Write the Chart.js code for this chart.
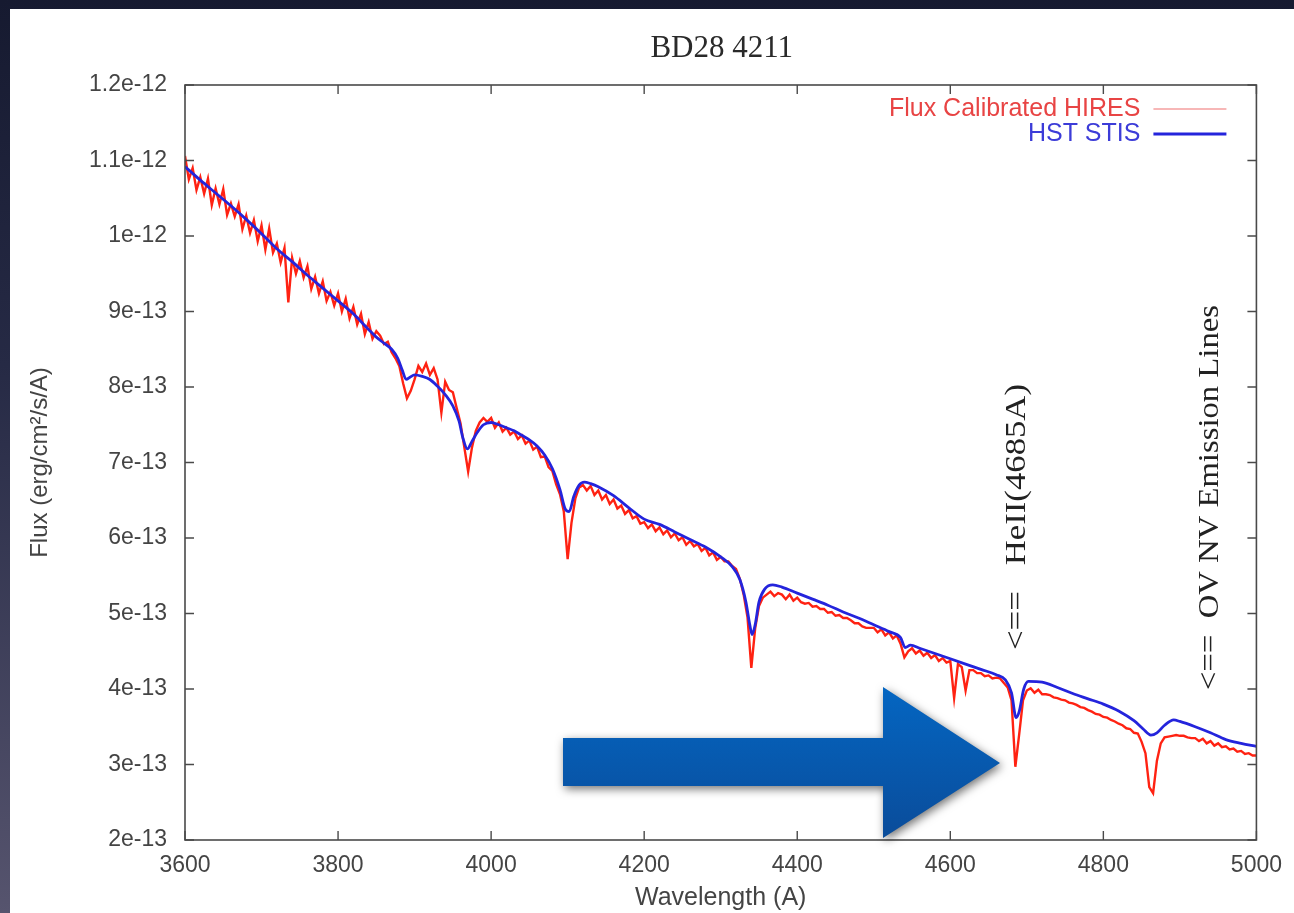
<!DOCTYPE html>
<html><head><meta charset="utf-8">
<script src="https://cdn.jsdelivr.net/npm/chart.js@4.4.1/dist/chart.umd.min.js"></script>
<style>
html,body{margin:0;padding:0;width:1294px;height:913px;overflow:hidden;
 background:linear-gradient(180deg,#161a30 0%,#262a45 40%,#56546e 100%);}
#panel{position:absolute;left:10px;top:9px;width:1284px;height:904px;background:#fff;}
canvas{display:block;}
</style></head><body>
<div id="panel"><canvas id="c" width="1284" height="904"></canvas></div>
<script>
// Flux values are in units of 1e-13 erg/cm^2/s/A
const chartTitle = 'BD28 4211';
const xTickLabels = ['3600','3800','4000','4200','4400','4600','4800','5000'];
const yTickLabels = ['2e-13','3e-13','4e-13','5e-13','6e-13','7e-13','8e-13','9e-13','1e-12','1.1e-12','1.2e-12'];
const seriesNames = ['Flux Calibrated HIRES','HST STIS'];
const annotations = ['<==   HeII(4685A)', '<==  OV NV Emission Lines'];

// HST STIS (smooth)
const stisWavelength = [3600,3620,3640,3660,3680,3700,3720,3740,3760,3780,3800,3820,3840,
 3850,3860,3870,3878,3884,3889,3894,3900,3910,3920,3930,3940,3950,
 3958,3963,3969,3975,3982,3990,4000,4010,4020,4030,4040,4050,4060,4070,4080,4090,
 4097,4102,4108,4115,4122,4130,4140,4160,4180,4200,4220,4240,4260,4280,4300,
 4315,4325,4333,4338,4341,4345,4350,4358,4368,4380,4400,4420,4440,4460,4480,4500,4520,
 4535,4541,4548,4560,4580,4600,4620,4640,4660,4672,4680,4686,4690,4696,4702,
 4720,4740,4760,4780,4800,4820,4840,4852,4862,4870,4880,4892,4900,4920,4940,4960,4980,5000];
const stisFlux = [10.92,10.74,10.57,10.40,10.22,10.03,9.83,9.66,9.48,9.31,9.14,8.97,8.76,
 8.66,8.58,8.50,8.38,8.22,8.10,8.13,8.16,8.14,8.10,8.01,7.90,7.75,
 7.55,7.33,7.18,7.28,7.40,7.50,7.53,7.50,7.46,7.42,7.36,7.30,7.22,7.10,6.92,6.64,
 6.38,6.35,6.55,6.70,6.74,6.72,6.68,6.56,6.40,6.25,6.18,6.08,5.98,5.88,5.75,
 5.62,5.45,5.15,4.85,4.72,4.85,5.15,5.33,5.38,5.35,5.27,5.19,5.11,5.02,4.94,4.85,4.76,
 4.68,4.55,4.58,4.54,4.47,4.40,4.33,4.26,4.19,4.12,3.95,3.62,3.70,4.00,4.10,
 4.09,4.02,3.94,3.87,3.80,3.71,3.58,3.47,3.39,3.42,3.52,3.59,3.57,3.50,3.42,3.33,3.28,3.24];

// Flux calibrated HIRES, sampled every 5 A from 3600 A
const hiresStart = 3600, hiresStep = 5;
const hiresFlux = [
 11.06,10.75,10.90,10.61,10.78,10.56,10.76,10.41,10.63,10.42,10.62,10.28,10.43,10.26,10.42,10.09,10.27,10.04,10.21,9.93,
 10.14,9.82,10.10,9.78,9.90,9.65,9.84,9.12,9.71,9.50,9.67,9.45,9.60,9.30,9.46,9.24,9.40,9.14,9.26,9.08,
 9.24,9.00,9.17,8.91,9.06,8.83,8.97,8.70,8.86,8.64,8.74,8.68,8.57,8.60,8.46,8.38,8.28,8.05,7.85,7.95,
 8.10,8.28,8.20,8.31,8.16,8.25,8.10,7.66,8.07,7.96,7.93,7.72,7.52,7.20,6.88,7.20,7.42,7.53,7.59,7.54,
 7.59,7.46,7.53,7.41,7.46,7.37,7.41,7.31,7.36,7.25,7.29,7.17,7.21,7.07,7.08,6.94,6.89,6.71,6.58,6.35,
 5.72,6.20,6.52,6.67,6.70,6.63,6.69,6.57,6.63,6.51,6.57,6.45,6.51,6.39,6.43,6.32,6.37,6.26,6.29,6.19,
 6.21,6.13,6.18,6.09,6.14,6.05,6.10,6.01,6.06,5.97,6.01,5.91,5.96,5.89,5.92,5.83,5.87,5.77,5.81,5.71,
 5.75,5.69,5.69,5.63,5.59,5.46,5.25,4.95,4.28,4.80,5.10,5.21,5.25,5.29,5.23,5.27,5.25,5.19,5.25,5.17,
 5.21,5.15,5.13,5.14,5.09,5.10,5.06,5.06,5.01,5.02,4.97,4.98,4.94,4.94,4.91,4.87,4.87,4.83,4.81,4.81,
 4.81,4.75,4.79,4.71,4.75,4.67,4.71,4.60,4.42,4.50,4.54,4.47,4.51,4.44,4.48,4.41,4.45,4.37,4.41,4.35,
 4.37,3.88,4.33,4.29,3.98,4.25,4.25,4.21,4.21,4.17,4.18,4.14,4.15,4.14,4.08,4.02,3.85,2.97,3.40,3.85,
 3.98,4.01,3.95,3.99,3.93,3.93,3.92,3.89,3.88,3.86,3.85,3.82,3.81,3.79,3.76,3.75,3.72,3.70,3.67,3.66,
 3.63,3.62,3.59,3.57,3.54,3.52,3.48,3.47,3.42,3.41,3.30,3.15,2.70,2.62,3.05,3.28,3.36,3.37,3.38,3.39,
 3.38,3.38,3.36,3.35,3.35,3.31,3.34,3.28,3.31,3.25,3.28,3.23,3.24,3.20,3.21,3.17,3.18,3.14,3.15,3.12,
 3.12];

const RED = '#ff2212', BLUE = '#2424dc';
const SANS = '"Liberation Sans", Arial, sans-serif';
const SERIF = '"Liberation Serif", "Times New Roman", serif';

const stisData = stisWavelength.map((w,i)=>({x:w, y:stisFlux[i]}));
const hiresData = hiresFlux.map((f,i)=>({x:hiresStart + hiresStep*i, y:f}));

const deco = {
  id:'deco',
  afterDatasetsDraw(chart){
    const {ctx, chartArea:a, scales:{x, y}} = chart;
    ctx.save();
    // frame
    ctx.strokeStyle = '#4a4a4a'; ctx.lineWidth = 1.6;
    ctx.strokeRect(a.left, a.top, a.right - a.left, a.bottom - a.top);
    // inward ticks (mirrored)
    ctx.beginPath();
    x.ticks.forEach(t => { const p = x.getPixelForValue(t.value);
      ctx.moveTo(p, a.bottom); ctx.lineTo(p, a.bottom - 9);
      ctx.moveTo(p, a.top); ctx.lineTo(p, a.top + 9); });
    y.ticks.forEach(t => { const p = y.getPixelForValue(t.value);
      ctx.moveTo(a.left, p); ctx.lineTo(a.left + 9, p);
      ctx.moveTo(a.right, p); ctx.lineTo(a.right - 9, p); });
    ctx.lineWidth = 1.4; ctx.stroke();

    // title
    ctx.fillStyle = '#2a2a2a'; ctx.font = '31px ' + SERIF;
    ctx.textAlign = 'center'; ctx.textBaseline = 'middle';
    ctx.fillText(chartTitle, (a.left + a.right)/2 + 1, 40);

    // legend (gnuplot style: text right-aligned, sample to the right)
    ctx.font = '25px ' + SANS; ctx.textAlign = 'right';
    const lx = a.right - 116, ly = a.top + 24;
    ctx.fillStyle = '#e84444'; ctx.fillText(seriesNames[0], lx, ly);
    ctx.fillStyle = '#3c3cd8'; ctx.fillText(seriesNames[1], lx, ly + 25);
    ctx.beginPath(); ctx.moveTo(lx + 13, ly); ctx.lineTo(lx + 86, ly);
    ctx.strokeStyle = '#f07070'; ctx.lineWidth = 1.2; ctx.stroke();
    ctx.beginPath(); ctx.moveTo(lx + 13, ly + 25); ctx.lineTo(lx + 86, ly + 25);
    ctx.strokeStyle = BLUE; ctx.lineWidth = 2.8; ctx.stroke();

    // rotated annotations
    const drawRot = (text, wave, yBottom, len) => {
      ctx.save();
      ctx.font = '29px ' + SERIF; ctx.fillStyle = '#222';
      ctx.textAlign = 'left'; ctx.textBaseline = 'middle';
      const w = ctx.measureText(text).width;
      ctx.translate(x.getPixelForValue(wave), yBottom);
      ctx.rotate(-Math.PI/2);
      ctx.scale(len / w, 1);
      ctx.fillText(text, 0, 0);
      ctx.restore();
    };
    drawRot(annotations[0], 4688, 641, 266);
    drawRot(annotations[1], 4940, 681, 385);

    // big blue arrow (slide decoration)
    ctx.save();
    ctx.shadowColor = 'rgba(0,0,0,0.55)'; ctx.shadowBlur = 10;
    ctx.shadowOffsetX = 2; ctx.shadowOffsetY = 3;
    const g = ctx.createLinearGradient(0, 678, 0, 829);
    g.addColorStop(0, '#0466c2'); g.addColorStop(1, '#0a4c9a');
    ctx.fillStyle = g;
    ctx.beginPath();
    ctx.moveTo(553, 729); ctx.lineTo(873, 729); ctx.lineTo(873, 678);
    ctx.lineTo(990, 754); ctx.lineTo(873, 829); ctx.lineTo(873, 777);
    ctx.lineTo(553, 777); ctx.closePath(); ctx.fill();
    ctx.restore();
    ctx.restore();
  }
};

new Chart(document.getElementById('c'), {
  type:'line',
  data:{ datasets:[
    {label:seriesNames[1], data:stisData, borderColor:BLUE, borderWidth:2.8,
     pointRadius:0, cubicInterpolationMode:'monotone', fill:false},
    {label:seriesNames[0], data:hiresData, borderColor:RED, borderWidth:2.4,
     pointRadius:0, tension:0, fill:false}
  ]},
  options:{
    responsive:false, animation:false, events:[],
    layout:{padding:{left:0, right:31, top:76, bottom:0}},
    plugins:{legend:{display:false}, tooltip:{enabled:false}, title:{display:false}},
    scales:{
      x:{type:'linear', min:3600, max:5000,
         grid:{display:false, drawTicks:false}, border:{display:false},
         ticks:{stepSize:200, autoSkip:false, maxRotation:0, padding:12, color:'#444',
                font:{family:SANS, size:23},
                callback:(v)=> xTickLabels[Math.round((v-3600)/200)] ?? ''},
         title:{display:true, text:'Wavelength (A)', color:'#444',
                font:{family:SANS, size:25}, padding:{top:0, bottom:0}},
         afterFit(s){ s.height = 73; }},
      y:{type:'linear', min:2, max:12,
         grid:{display:false, drawTicks:false}, border:{display:false},
         ticks:{stepSize:1, autoSkip:false, padding:18, color:'#444',
                font:{family:SANS, size:23},
                callback:(v)=> yTickLabels[Math.round(v-2)] ?? ''},
         title:{display:true, text:'Flux (erg/cm²/s/A)', color:'#444',
                font:{family:SANS, size:24}, padding:{top:16, bottom:0}},
         afterFit(s){ s.width = 175; }}
    }
  },
  plugins:[deco]
});
</script></body></html>
